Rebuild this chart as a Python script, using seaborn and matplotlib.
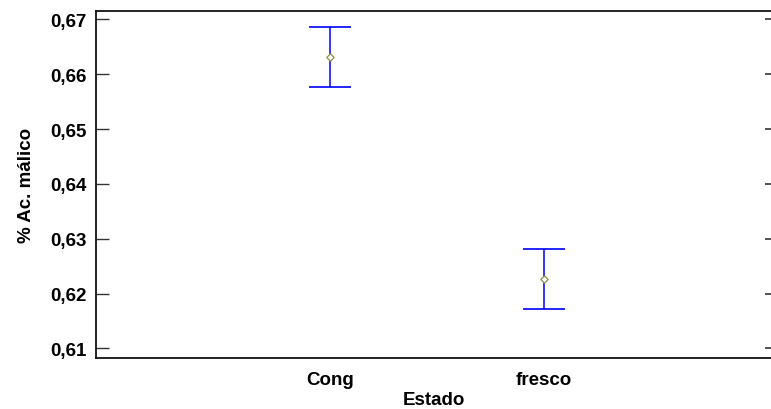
import matplotlib
matplotlib.use("Agg")
import matplotlib.pyplot as plt
import seaborn as sns
import pandas as pd

# Means with interval limits for each state
estados = ["Cong", "fresco"]
medias = [0.6631, 0.6227]
limite_inf = [0.6576, 0.6172]
limite_sup = [0.6687, 0.6282]
yticks = [0.61, 0.62, 0.63, 0.64, 0.65, 0.66, 0.67]
ytick_labels = ["0,61", "0,62", "0,63", "0,64", "0,65", "0,66", "0,67"]

sns.set_style("white")
plt.rcParams["font.family"] = ["Liberation Sans", "DejaVu Sans"]
plt.rcParams["text.color"] = "black"
plt.rcParams["axes.labelcolor"] = "black"
plt.rcParams["xtick.color"] = "black"
plt.rcParams["ytick.color"] = "black"

df = pd.DataFrame({"Estado": estados, "media": medias,
                   "inf": limite_inf, "sup": limite_sup})
df["pos"] = range(len(df))

fig = plt.figure(figsize=(7.71, 4.10), dpi=100)
ax = fig.add_axes([96 / 771, 1 - 359.3 / 410, 675 / 771, (359.3 - 11.7) / 410])

# interval bars
ax.errorbar(df["pos"], df["media"],
            yerr=[df["media"] - df["inf"], df["sup"] - df["media"]],
            fmt="none", ecolor="#0000ff", elinewidth=1.1, capsize=15.2,
            capthick=1.2, zorder=2)
# mean markers
sns.scatterplot(data=df, x="pos", y="media", marker="D", s=14,
                facecolor="white", edgecolor="#8c8c4a", linewidth=0.9,
                ax=ax, zorder=3, legend=False)

ax.set_xlim(-1.093, 2.06)
ax.set_ylim(0.6082, 0.6716)
ax.set_xticks(df["pos"])
ax.set_xticklabels(estados, fontsize=13.5, fontweight="bold")
ax.set_yticks(yticks)
ax.set_yticklabels(ytick_labels, fontsize=13.5, fontweight="bold")
ax.tick_params(axis="x", length=0, pad=9)
ax.tick_params(axis="y", direction="in", length=9.5, width=1.0,
               color="#333333", pad=7, left=True, right=False)

# short inward ticks on the right side
sec = ax.secondary_yaxis("right")
sec.set_yticks(yticks)
sec.tick_params(direction="in", length=4.5, width=1.2, color="#333333",
                labelright=False)
sec.spines["right"].set_visible(False)

for s in ["left", "top", "bottom"]:
    ax.spines[s].set_visible(True)
    ax.spines[s].set_color("#111111")
    ax.spines[s].set_linewidth(1.3)
ax.spines["right"].set_visible(False)

ax.set_xlabel("Estado", fontsize=13.5, fontweight="bold", labelpad=2)
ax.set_ylabel("% Ac. málico", fontsize=13.5, fontweight="bold", labelpad=11)

fig.savefig("out.png", dpi=100)
